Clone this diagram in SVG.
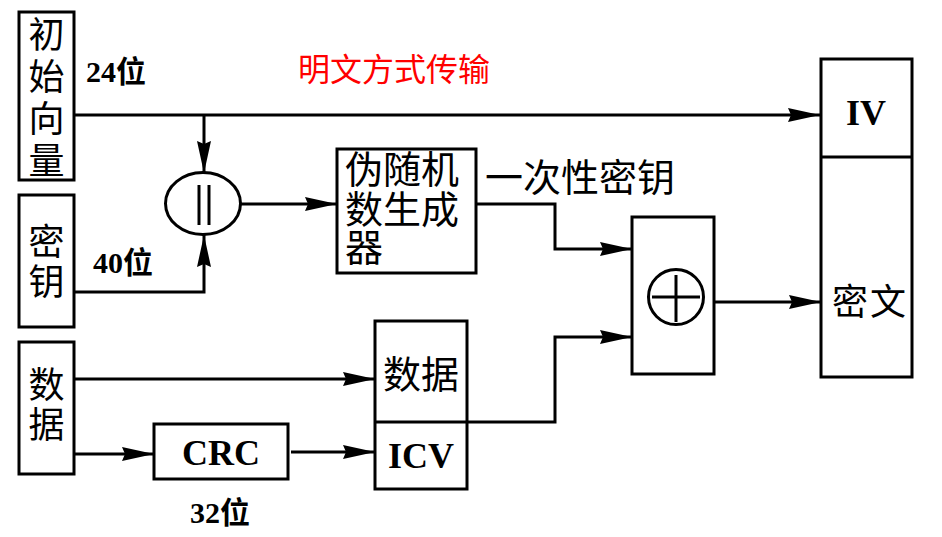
<svg xmlns="http://www.w3.org/2000/svg" width="942" height="537" viewBox="0 0 942 537">
<defs>
<style>
.box{fill:#fff;stroke:#000;stroke-width:3}
.ln{fill:none;stroke:#000;stroke-width:3}
.cn{fill:none;stroke:#000;stroke-width:3}
.arr{marker-end:url(#ah)}
.cjk{font-family:"Noto Sans CJK SC","Noto Sans CJK TC",sans-serif;fill:#000}
.lat{font-family:"Liberation Serif","Noto Sans CJK SC",serif;font-weight:bold;fill:#000}
</style>
<marker id="ah" markerUnits="userSpaceOnUse" markerWidth="34" markerHeight="16" refX="32" refY="7" orient="auto">
<path d="M0,0 L32,7 L0,14 L3,7 z" fill="#000"/>
</marker>
</defs>
<rect width="942" height="537" fill="#fff"/>

<g id="connectors">
<path class="cn arr" d="M74,115 H820"/>
<path class="cn arr" d="M204,115 V173"/>
<path class="cn arr" d="M74,292 H204 V235"/>
<path class="cn arr" d="M241,204 H337"/>
<path class="cn arr" d="M476,204 H555 V249 H632"/>
<path class="cn arr" d="M74,379 H375"/>
<path class="cn arr" d="M74,454 H154"/>
<path class="cn arr" d="M291,452 H375"/>
<path class="cn arr" d="M467,422 H555 V337 H632"/>
<path class="cn arr" d="M714,302 H821"/>
</g>

<g id="iv-source">
<rect class="box" x="19" y="12" width="55" height="168"/>
<text class="cjk" font-size="36" text-anchor="middle" x="46.5" y="48">初</text>
<text class="cjk" font-size="36" text-anchor="middle" x="46.5" y="90">始</text>
<text class="cjk" font-size="36" text-anchor="middle" x="46.5" y="132">向</text>
<text class="cjk" font-size="36" text-anchor="middle" x="46.5" y="174">量</text>
</g>

<g id="key-source">
<rect class="box" x="19" y="195" width="55" height="132"/>
<text class="cjk" font-size="36" text-anchor="middle" x="46.5" y="255">密</text>
<text class="cjk" font-size="36" text-anchor="middle" x="46.5" y="295">钥</text>
</g>

<g id="data-source">
<rect class="box" x="19" y="342" width="55" height="132"/>
<text class="cjk" font-size="36" text-anchor="middle" x="46.5" y="398">数</text>
<text class="cjk" font-size="36" text-anchor="middle" x="46.5" y="438">据</text>
</g>

<g id="concat">
<ellipse class="box" cx="203" cy="203.5" rx="37.5" ry="31"/>
<line class="ln" x1="199" y1="185" x2="199" y2="225" stroke-width="3.5"/>
<line class="ln" x1="209" y1="185" x2="209" y2="225" stroke-width="3.5"/>
</g>

<g id="prng">
<rect class="box" x="337" y="149" width="139" height="124"/>
<text class="cjk" font-size="38" x="345" y="183">伪随机</text>
<text class="cjk" font-size="38" x="345" y="223">数生成</text>
<text class="cjk" font-size="38" x="345" y="261">器</text>
</g>

<g id="crc">
<rect class="box" x="154" y="424" width="134" height="55"/>
<text class="lat" font-size="36" text-anchor="middle" x="221" y="465">CRC</text>
</g>

<g id="data-icv">
<rect class="box" x="375" y="321" width="92" height="168"/>
<line class="ln" x1="375" y1="422" x2="467" y2="422"/>
<text class="cjk" font-size="38" text-anchor="middle" x="421" y="388">数据</text>
<text class="lat" font-size="36" text-anchor="middle" x="421" y="468">ICV</text>
</g>

<g id="xor">
<rect class="box" x="632" y="217" width="82" height="157"/>
<circle class="ln" cx="676" cy="297" r="27.5"/>
<line class="ln" x1="652" y1="297" x2="700" y2="297" stroke-width="3.5"/>
<line class="ln" x1="676" y1="275" x2="676" y2="322" stroke-width="3.5"/>
</g>

<g id="output">
<rect class="box" x="821" y="59" width="91" height="318"/>
<line class="ln" x1="821" y1="157" x2="912" y2="157"/>
<text class="lat" font-size="36" text-anchor="middle" x="866" y="125">IV</text>
<text class="cjk" font-size="36" text-anchor="middle" x="870" y="315" letter-spacing="2">密文</text>
</g>

<g id="labels">
<text class="lat" font-size="30" x="86" y="82">24位</text>
<text class="lat" font-size="30" x="93" y="273">40位</text>
<text class="lat" font-size="30" x="190" y="523">32位</text>
<text class="cjk" font-size="32" x="298" y="81" fill="#ff0000" style="fill:#ff0000">明文方式传输</text>
<text class="cjk" font-size="38" x="485" y="191">一次性密钥</text>
</g>
</svg>
